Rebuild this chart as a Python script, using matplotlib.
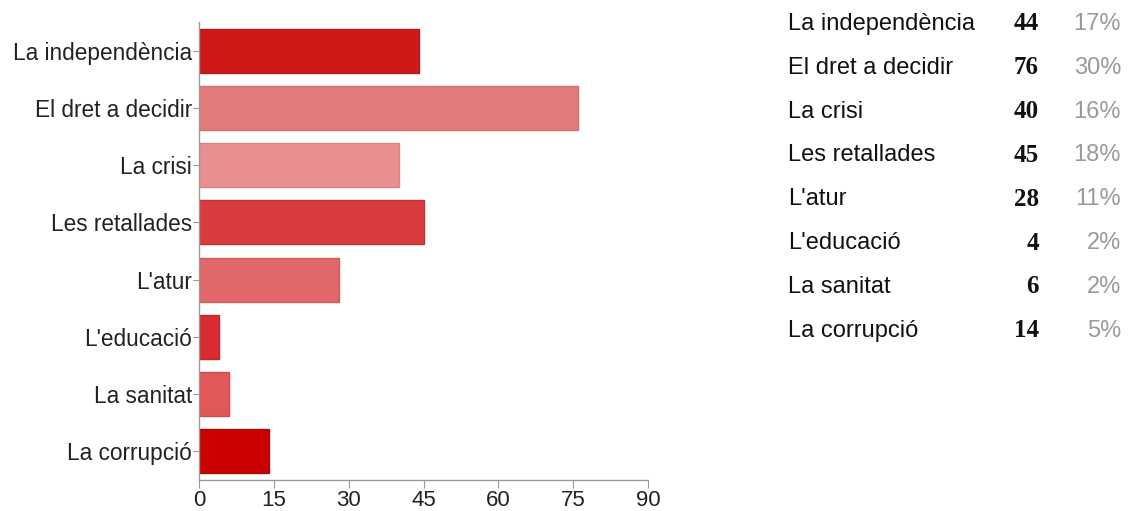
import matplotlib
matplotlib.use("Agg")
import matplotlib.pyplot as plt

categories = ["La independència", "El dret a decidir", "La crisi", "Les retallades",
              "L'atur", "L'educació", "La sanitat", "La corrupció"]
counts = [44, 76, 40, 45, 28, 4, 6, 14]
percents = ["17%", "30%", "16%", "18%", "11%", "2%", "2%", "5%"]
bar_colors = ["#d01818", "#e37b7b", "#e89090", "#d93c3f",
              "#e06868", "#d92b30", "#e05858", "#cc0000"]
edge_colors = ["#a82020", "#d07070", "#d88585", "#b83538",
               "#cc6060", "#b82a2e", "#cc5050", "#a01010"]
x_ticks = [0, 15, 30, 45, 60, 75, 90]

W, H = 1129, 511
fig = plt.figure(figsize=(W / 100, H / 100), dpi=100)
ax = fig.add_axes([199 / W, 1 - 480 / H, (648 - 199) / W, (480 - 22) / H])

ypos = list(range(len(categories)))
ax.barh(ypos, counts, height=0.77, color=bar_colors, edgecolor=edge_colors, linewidth=1.0)
ax.set_ylim(len(categories) - 0.5, -0.5)
ax.set_xlim(0, 90)
ax.set_xticks(x_ticks)
ax.set_xticklabels([str(t) for t in x_ticks], fontsize=16, family="Liberation Sans", color="#222222")
ax.set_yticks(ypos)
ax.set_yticklabels(categories, fontsize=16.3, family="Liberation Sans", color="#222222")
for side in ("top", "right"):
    ax.spines[side].set_visible(False)
for side in ("left", "bottom"):
    ax.spines[side].set_color("#999999")
    ax.spines[side].set_linewidth(1.0)
ax.tick_params(axis="y", length=4, color="#999999", pad=1)
ax.tick_params(axis="x", length=6, color="#999999", pad=1)

# Summary table on the right
row0 = 24
step = 43.8
for i, (cat, n, p) in enumerate(zip(categories, counts, percents)):
    yc = 1 - (row0 + i * step) / H
    fig.text(788 / W, yc, cat, ha="left", va="center", fontsize=17,
             family="Liberation Sans", color="#111111")
    fig.text(1039 / W, yc, str(n), ha="right", va="center", fontsize=18,
             family="Liberation Serif", weight="bold", color="#111111")
    fig.text(1121 / W, yc, p, ha="right", va="center", fontsize=17,
             family=["Liberation Sans Narrow", "Liberation Sans"], color="#9a9a9a")

fig.savefig("out.png", dpi=100, facecolor="white")
